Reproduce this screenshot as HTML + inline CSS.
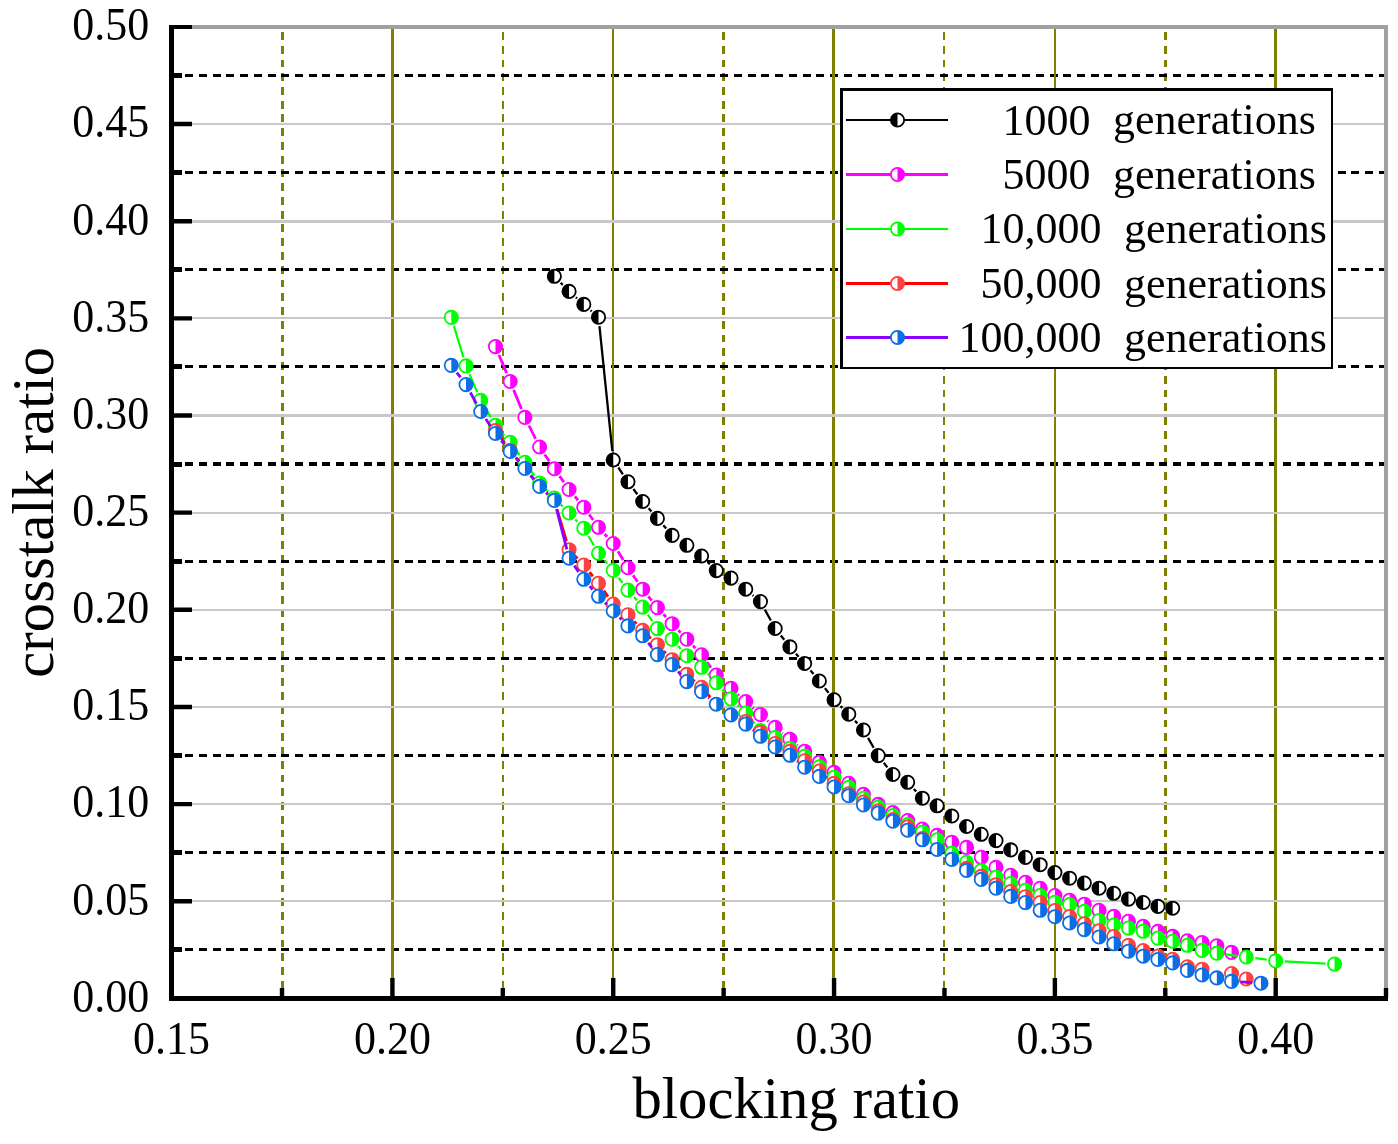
<!DOCTYPE html>
<html lang="en"><head><meta charset="utf-8"><title>crosstalk ratio vs blocking ratio</title>
<style>html,body{margin:0;padding:0;background:#fff}body{width:1398px;height:1144px;overflow:hidden}svg{display:block;will-change:transform}text{font-family:"Liberation Serif","Times New Roman",serif;fill:#000}.tk{font-size:44px}.ax{font-size:58.7px}.lg{font-size:44px}</style></head><body>
<svg width="1398" height="1144" viewBox="0 0 1398 1144">
<rect width="1398" height="1144" fill="#fff"/>
<g fill="none" shape-rendering="crispEdges">
<path d="M282.5 32V998.4" stroke="#808000" stroke-width="3" stroke-dasharray="7.9 5.85"/>
<path d="M503 32V998.4" stroke="#808000" stroke-width="2" stroke-dasharray="7.9 5.85"/>
<path d="M723.5 32V998.4" stroke="#808000" stroke-width="3" stroke-dasharray="7.9 5.85"/>
<path d="M944 32V998.4" stroke="#808000" stroke-width="2" stroke-dasharray="7.9 5.85"/>
<path d="M1165.5 32V998.4" stroke="#808000" stroke-width="3" stroke-dasharray="7.9 5.85"/>
<path d="M171.5 949.5H1386.11" stroke="#000" stroke-width="3" stroke-dasharray="8 5.72"/>
<path d="M171.5 852.5H1386.11" stroke="#000" stroke-width="3" stroke-dasharray="8 5.72"/>
<path d="M171.5 755.5H1386.11" stroke="#000" stroke-width="3" stroke-dasharray="8 5.72"/>
<path d="M171.5 658.5H1386.11" stroke="#000" stroke-width="3" stroke-dasharray="8 5.72"/>
<path d="M171.5 561.5H1386.11" stroke="#000" stroke-width="3" stroke-dasharray="8 5.72"/>
<path d="M171.5 464H1386.11" stroke="#000" stroke-width="4" stroke-dasharray="8 5.72"/>
<path d="M171.5 366.5H1386.11" stroke="#000" stroke-width="3" stroke-dasharray="8 5.72"/>
<path d="M171.5 269.5H1386.11" stroke="#000" stroke-width="3" stroke-dasharray="8 5.72"/>
<path d="M171.5 172.5H1386.11" stroke="#000" stroke-width="3" stroke-dasharray="8 5.72"/>
<path d="M171.5 75.5H1386.11" stroke="#000" stroke-width="3" stroke-dasharray="8 5.72"/>
<path d="M392.5 26.9V998.4" stroke="#808000" stroke-width="3"/>
<path d="M613 26.9V998.4" stroke="#808000" stroke-width="2"/>
<path d="M833.5 26.9V998.4" stroke="#808000" stroke-width="3"/>
<path d="M1055 26.9V998.4" stroke="#808000" stroke-width="2"/>
<path d="M1275.5 26.9V998.4" stroke="#808000" stroke-width="3"/>
<path d="M171.6 901H1386.11" stroke="#c8c8c8" stroke-width="2"/>
<path d="M171.6 804H1386.11" stroke="#c8c8c8" stroke-width="2"/>
<path d="M171.6 707H1386.11" stroke="#c8c8c8" stroke-width="2"/>
<path d="M171.6 610H1386.11" stroke="#c8c8c8" stroke-width="2"/>
<path d="M171.6 513H1386.11" stroke="#c8c8c8" stroke-width="2"/>
<path d="M171.6 415.5H1386.11" stroke="#c8c8c8" stroke-width="3"/>
<path d="M171.6 318H1386.11" stroke="#c8c8c8" stroke-width="2"/>
<path d="M171.6 221.5H1386.11" stroke="#c8c8c8" stroke-width="3"/>
<path d="M171.6 124H1386.11" stroke="#c8c8c8" stroke-width="2"/>
<path d="M171.6 27H1388M1386 25V998.4" stroke="#a0a0a0" stroke-width="4"/>
</g>
<g id="s1">
<path d="M560.67 282.78L562.76 284.92M575.86 297.39L577.01 298.41M590.63 310.34L591.69 311.26M599.45 326.2L612.31 451M618.3 467.5L622.9 474.3M633.38 489.05L637.27 494.25M648.63 508.32L651.46 511.58M663.33 525.24L666.2 528.56M707.99 562.37L709.86 564.23M738.24 583.55L738.51 583.75M752.65 595.03L753.53 595.77M764.8 609.54L770.83 620.56M780.83 635.57L784.24 639.83M795.9 653.67L798.61 656.73M810.44 670.43L813.51 674.07M824.92 688.13L828.48 692.67M840.53 706.13L842.31 707.87M854.95 720.82L857.33 723.38M868.01 737.85L873.71 747.75M883.79 762.74L887.38 767.36M913.82 788.94L916.24 791.56" fill="none" stroke="#000000" stroke-width="2.3"/>
<circle cx="554.35" cy="276.3" r="6.65" fill="#fff" stroke="#000000" stroke-width="1.8"/><path d="M554.35 269.65A6.65 6.65 0 0 0 554.35 282.95Z" fill="#000000"/>
<circle cx="569.08" cy="291.4" r="6.65" fill="#fff" stroke="#000000" stroke-width="1.8"/><path d="M569.08 284.75A6.65 6.65 0 0 0 569.08 298.05Z" fill="#000000"/>
<circle cx="583.8" cy="304.4" r="6.65" fill="#fff" stroke="#000000" stroke-width="1.8"/><path d="M583.8 297.75A6.65 6.65 0 0 0 583.8 311.05Z" fill="#000000"/>
<circle cx="598.52" cy="317.2" r="6.65" fill="#fff" stroke="#000000" stroke-width="1.8"/><path d="M598.52 310.55A6.65 6.65 0 0 0 598.52 323.85Z" fill="#000000"/>
<circle cx="613.24" cy="460" r="6.65" fill="#fff" stroke="#000000" stroke-width="1.8"/><path d="M613.24 453.35A6.65 6.65 0 0 0 613.24 466.65Z" fill="#000000"/>
<circle cx="627.96" cy="481.8" r="6.65" fill="#fff" stroke="#000000" stroke-width="1.8"/><path d="M627.96 475.15A6.65 6.65 0 0 0 627.96 488.45Z" fill="#000000"/>
<circle cx="642.68" cy="501.5" r="6.65" fill="#fff" stroke="#000000" stroke-width="1.8"/><path d="M642.68 494.85A6.65 6.65 0 0 0 642.68 508.15Z" fill="#000000"/>
<circle cx="657.4" cy="518.4" r="6.65" fill="#fff" stroke="#000000" stroke-width="1.8"/><path d="M657.4 511.75A6.65 6.65 0 0 0 657.4 525.05Z" fill="#000000"/>
<circle cx="672.13" cy="535.4" r="6.65" fill="#fff" stroke="#000000" stroke-width="1.8"/><path d="M672.13 528.75A6.65 6.65 0 0 0 672.13 542.05Z" fill="#000000"/>
<circle cx="686.85" cy="545.3" r="6.65" fill="#fff" stroke="#000000" stroke-width="1.8"/><path d="M686.85 538.65A6.65 6.65 0 0 0 686.85 551.95Z" fill="#000000"/>
<circle cx="701.57" cy="556" r="6.65" fill="#fff" stroke="#000000" stroke-width="1.8"/><path d="M701.57 549.35A6.65 6.65 0 0 0 701.57 562.65Z" fill="#000000"/>
<circle cx="716.29" cy="570.6" r="6.65" fill="#fff" stroke="#000000" stroke-width="1.8"/><path d="M716.29 563.95A6.65 6.65 0 0 0 716.29 577.25Z" fill="#000000"/>
<circle cx="731.01" cy="578.1" r="6.65" fill="#fff" stroke="#000000" stroke-width="1.8"/><path d="M731.01 571.45A6.65 6.65 0 0 0 731.01 584.75Z" fill="#000000"/>
<circle cx="745.73" cy="589.2" r="6.65" fill="#fff" stroke="#000000" stroke-width="1.8"/><path d="M745.73 582.55A6.65 6.65 0 0 0 745.73 595.85Z" fill="#000000"/>
<circle cx="760.45" cy="601.6" r="6.65" fill="#fff" stroke="#000000" stroke-width="1.8"/><path d="M760.45 594.95A6.65 6.65 0 0 0 760.45 608.25Z" fill="#000000"/>
<circle cx="775.17" cy="628.5" r="6.65" fill="#fff" stroke="#000000" stroke-width="1.8"/><path d="M775.17 621.85A6.65 6.65 0 0 0 775.17 635.15Z" fill="#000000"/>
<circle cx="789.9" cy="646.9" r="6.65" fill="#fff" stroke="#000000" stroke-width="1.8"/><path d="M789.9 640.25A6.65 6.65 0 0 0 789.9 653.55Z" fill="#000000"/>
<circle cx="804.62" cy="663.5" r="6.65" fill="#fff" stroke="#000000" stroke-width="1.8"/><path d="M804.62 656.85A6.65 6.65 0 0 0 804.62 670.15Z" fill="#000000"/>
<circle cx="819.34" cy="681" r="6.65" fill="#fff" stroke="#000000" stroke-width="1.8"/><path d="M819.34 674.35A6.65 6.65 0 0 0 819.34 687.65Z" fill="#000000"/>
<circle cx="834.06" cy="699.8" r="6.65" fill="#fff" stroke="#000000" stroke-width="1.8"/><path d="M834.06 693.15A6.65 6.65 0 0 0 834.06 706.45Z" fill="#000000"/>
<circle cx="848.78" cy="714.2" r="6.65" fill="#fff" stroke="#000000" stroke-width="1.8"/><path d="M848.78 707.55A6.65 6.65 0 0 0 848.78 720.85Z" fill="#000000"/>
<circle cx="863.5" cy="730" r="6.65" fill="#fff" stroke="#000000" stroke-width="1.8"/><path d="M863.5 723.35A6.65 6.65 0 0 0 863.5 736.65Z" fill="#000000"/>
<circle cx="878.22" cy="755.6" r="6.65" fill="#fff" stroke="#000000" stroke-width="1.8"/><path d="M878.22 748.95A6.65 6.65 0 0 0 878.22 762.25Z" fill="#000000"/>
<circle cx="892.95" cy="774.5" r="6.65" fill="#fff" stroke="#000000" stroke-width="1.8"/><path d="M892.95 767.85A6.65 6.65 0 0 0 892.95 781.15Z" fill="#000000"/>
<circle cx="907.67" cy="782.3" r="6.65" fill="#fff" stroke="#000000" stroke-width="1.8"/><path d="M907.67 775.65A6.65 6.65 0 0 0 907.67 788.95Z" fill="#000000"/>
<circle cx="922.39" cy="798.2" r="6.65" fill="#fff" stroke="#000000" stroke-width="1.8"/><path d="M922.39 791.55A6.65 6.65 0 0 0 922.39 804.85Z" fill="#000000"/>
<circle cx="937.11" cy="805.8" r="6.65" fill="#fff" stroke="#000000" stroke-width="1.8"/><path d="M937.11 799.15A6.65 6.65 0 0 0 937.11 812.45Z" fill="#000000"/>
<circle cx="951.83" cy="816" r="6.65" fill="#fff" stroke="#000000" stroke-width="1.8"/><path d="M951.83 809.35A6.65 6.65 0 0 0 951.83 822.65Z" fill="#000000"/>
<circle cx="966.55" cy="826.5" r="6.65" fill="#fff" stroke="#000000" stroke-width="1.8"/><path d="M966.55 819.85A6.65 6.65 0 0 0 966.55 833.15Z" fill="#000000"/>
<circle cx="981.27" cy="834.3" r="6.65" fill="#fff" stroke="#000000" stroke-width="1.8"/><path d="M981.27 827.65A6.65 6.65 0 0 0 981.27 840.95Z" fill="#000000"/>
<circle cx="995.99" cy="840.6" r="6.65" fill="#fff" stroke="#000000" stroke-width="1.8"/><path d="M995.99 833.95A6.65 6.65 0 0 0 995.99 847.25Z" fill="#000000"/>
<circle cx="1010.72" cy="849.9" r="6.65" fill="#fff" stroke="#000000" stroke-width="1.8"/><path d="M1010.72 843.25A6.65 6.65 0 0 0 1010.72 856.55Z" fill="#000000"/>
<circle cx="1025.44" cy="857.4" r="6.65" fill="#fff" stroke="#000000" stroke-width="1.8"/><path d="M1025.44 850.75A6.65 6.65 0 0 0 1025.44 864.05Z" fill="#000000"/>
<circle cx="1040.16" cy="864.7" r="6.65" fill="#fff" stroke="#000000" stroke-width="1.8"/><path d="M1040.16 858.05A6.65 6.65 0 0 0 1040.16 871.35Z" fill="#000000"/>
<circle cx="1054.88" cy="872.6" r="6.65" fill="#fff" stroke="#000000" stroke-width="1.8"/><path d="M1054.88 865.95A6.65 6.65 0 0 0 1054.88 879.25Z" fill="#000000"/>
<circle cx="1069.6" cy="878.2" r="6.65" fill="#fff" stroke="#000000" stroke-width="1.8"/><path d="M1069.6 871.55A6.65 6.65 0 0 0 1069.6 884.85Z" fill="#000000"/>
<circle cx="1084.32" cy="883.1" r="6.65" fill="#fff" stroke="#000000" stroke-width="1.8"/><path d="M1084.32 876.45A6.65 6.65 0 0 0 1084.32 889.75Z" fill="#000000"/>
<circle cx="1099.04" cy="888.2" r="6.65" fill="#fff" stroke="#000000" stroke-width="1.8"/><path d="M1099.04 881.55A6.65 6.65 0 0 0 1099.04 894.85Z" fill="#000000"/>
<circle cx="1113.77" cy="893.3" r="6.65" fill="#fff" stroke="#000000" stroke-width="1.8"/><path d="M1113.77 886.65A6.65 6.65 0 0 0 1113.77 899.95Z" fill="#000000"/>
<circle cx="1128.49" cy="899.1" r="6.65" fill="#fff" stroke="#000000" stroke-width="1.8"/><path d="M1128.49 892.45A6.65 6.65 0 0 0 1128.49 905.75Z" fill="#000000"/>
<circle cx="1143.21" cy="902.5" r="6.65" fill="#fff" stroke="#000000" stroke-width="1.8"/><path d="M1143.21 895.85A6.65 6.65 0 0 0 1143.21 909.15Z" fill="#000000"/>
<circle cx="1157.93" cy="906.4" r="6.65" fill="#fff" stroke="#000000" stroke-width="1.8"/><path d="M1157.93 899.75A6.65 6.65 0 0 0 1157.93 913.05Z" fill="#000000"/>
<circle cx="1172.65" cy="908.2" r="6.65" fill="#fff" stroke="#000000" stroke-width="1.8"/><path d="M1172.65 901.55A6.65 6.65 0 0 0 1172.65 914.85Z" fill="#000000"/>
</g>
<g id="s2">
<path d="M498.99 354.94L506.67 373.16M513.62 389.87L521.48 409.03M528.94 425.5L535.6 438.9M544.71 454.49L549.27 461.21M559.58 476.09L563.85 482.11M574.86 496.46L578.01 500.24M589.14 514.5L593.17 520M604.61 534L607.15 536.8M617.94 551.23L623.26 559.97M633.07 575.17L637.57 581.73M648.34 596.27L651.75 600.53M663.51 614.28L666.02 617.02M678.36 630.26L680.61 632.64M693.06 645.78L695.36 648.22M706.9 662.11L710.96 667.69M723 681.07L724.3 682.23M737.73 694.37L739.02 695.53M752.52 707.59L753.67 708.61M767.28 720.54L768.35 721.46M782.24 733.06L782.83 733.54M796.91 744.92L797.6 745.48" fill="none" stroke="#ff00ff" stroke-width="2.8"/>
<circle cx="495.47" cy="346.6" r="6.65" fill="#fff" stroke="#ff00ff" stroke-width="1.8"/><path d="M495.47 339.95A6.65 6.65 0 0 1 495.47 353.25Z" fill="#ff00ff"/>
<circle cx="510.19" cy="381.5" r="6.65" fill="#fff" stroke="#ff00ff" stroke-width="1.8"/><path d="M510.19 374.85A6.65 6.65 0 0 1 510.19 388.15Z" fill="#ff00ff"/>
<circle cx="524.91" cy="417.4" r="6.65" fill="#fff" stroke="#ff00ff" stroke-width="1.8"/><path d="M524.91 410.75A6.65 6.65 0 0 1 524.91 424.05Z" fill="#ff00ff"/>
<circle cx="539.63" cy="447" r="6.65" fill="#fff" stroke="#ff00ff" stroke-width="1.8"/><path d="M539.63 440.35A6.65 6.65 0 0 1 539.63 453.65Z" fill="#ff00ff"/>
<circle cx="554.35" cy="468.7" r="6.65" fill="#fff" stroke="#ff00ff" stroke-width="1.8"/><path d="M554.35 462.05A6.65 6.65 0 0 1 554.35 475.35Z" fill="#ff00ff"/>
<circle cx="569.08" cy="489.5" r="6.65" fill="#fff" stroke="#ff00ff" stroke-width="1.8"/><path d="M569.08 482.85A6.65 6.65 0 0 1 569.08 496.15Z" fill="#ff00ff"/>
<circle cx="583.8" cy="507.2" r="6.65" fill="#fff" stroke="#ff00ff" stroke-width="1.8"/><path d="M583.8 500.55A6.65 6.65 0 0 1 583.8 513.85Z" fill="#ff00ff"/>
<circle cx="598.52" cy="527.3" r="6.65" fill="#fff" stroke="#ff00ff" stroke-width="1.8"/><path d="M598.52 520.65A6.65 6.65 0 0 1 598.52 533.95Z" fill="#ff00ff"/>
<circle cx="613.24" cy="543.5" r="6.65" fill="#fff" stroke="#ff00ff" stroke-width="1.8"/><path d="M613.24 536.85A6.65 6.65 0 0 1 613.24 550.15Z" fill="#ff00ff"/>
<circle cx="627.96" cy="567.7" r="6.65" fill="#fff" stroke="#ff00ff" stroke-width="1.8"/><path d="M627.96 561.05A6.65 6.65 0 0 1 627.96 574.35Z" fill="#ff00ff"/>
<circle cx="642.68" cy="589.2" r="6.65" fill="#fff" stroke="#ff00ff" stroke-width="1.8"/><path d="M642.68 582.55A6.65 6.65 0 0 1 642.68 595.85Z" fill="#ff00ff"/>
<circle cx="657.4" cy="607.6" r="6.65" fill="#fff" stroke="#ff00ff" stroke-width="1.8"/><path d="M657.4 600.95A6.65 6.65 0 0 1 657.4 614.25Z" fill="#ff00ff"/>
<circle cx="672.13" cy="623.7" r="6.65" fill="#fff" stroke="#ff00ff" stroke-width="1.8"/><path d="M672.13 617.05A6.65 6.65 0 0 1 672.13 630.35Z" fill="#ff00ff"/>
<circle cx="686.85" cy="639.2" r="6.65" fill="#fff" stroke="#ff00ff" stroke-width="1.8"/><path d="M686.85 632.55A6.65 6.65 0 0 1 686.85 645.85Z" fill="#ff00ff"/>
<circle cx="701.57" cy="654.8" r="6.65" fill="#fff" stroke="#ff00ff" stroke-width="1.8"/><path d="M701.57 648.15A6.65 6.65 0 0 1 701.57 661.45Z" fill="#ff00ff"/>
<circle cx="716.29" cy="675" r="6.65" fill="#fff" stroke="#ff00ff" stroke-width="1.8"/><path d="M716.29 668.35A6.65 6.65 0 0 1 716.29 681.65Z" fill="#ff00ff"/>
<circle cx="731.01" cy="688.3" r="6.65" fill="#fff" stroke="#ff00ff" stroke-width="1.8"/><path d="M731.01 681.65A6.65 6.65 0 0 1 731.01 694.95Z" fill="#ff00ff"/>
<circle cx="745.73" cy="701.6" r="6.65" fill="#fff" stroke="#ff00ff" stroke-width="1.8"/><path d="M745.73 694.95A6.65 6.65 0 0 1 745.73 708.25Z" fill="#ff00ff"/>
<circle cx="760.45" cy="714.6" r="6.65" fill="#fff" stroke="#ff00ff" stroke-width="1.8"/><path d="M760.45 707.95A6.65 6.65 0 0 1 760.45 721.25Z" fill="#ff00ff"/>
<circle cx="775.17" cy="727.4" r="6.65" fill="#fff" stroke="#ff00ff" stroke-width="1.8"/><path d="M775.17 720.75A6.65 6.65 0 0 1 775.17 734.05Z" fill="#ff00ff"/>
<circle cx="789.9" cy="739.2" r="6.65" fill="#fff" stroke="#ff00ff" stroke-width="1.8"/><path d="M789.9 732.55A6.65 6.65 0 0 1 789.9 745.85Z" fill="#ff00ff"/>
<circle cx="804.62" cy="751.2" r="6.65" fill="#fff" stroke="#ff00ff" stroke-width="1.8"/><path d="M804.62 744.55A6.65 6.65 0 0 1 804.62 757.85Z" fill="#ff00ff"/>
<circle cx="819.34" cy="762.2" r="6.65" fill="#fff" stroke="#ff00ff" stroke-width="1.8"/><path d="M819.34 755.55A6.65 6.65 0 0 1 819.34 768.85Z" fill="#ff00ff"/>
<circle cx="834.06" cy="772.4" r="6.65" fill="#fff" stroke="#ff00ff" stroke-width="1.8"/><path d="M834.06 765.75A6.65 6.65 0 0 1 834.06 779.05Z" fill="#ff00ff"/>
<circle cx="848.78" cy="783.3" r="6.65" fill="#fff" stroke="#ff00ff" stroke-width="1.8"/><path d="M848.78 776.65A6.65 6.65 0 0 1 848.78 789.95Z" fill="#ff00ff"/>
<circle cx="863.5" cy="794.3" r="6.65" fill="#fff" stroke="#ff00ff" stroke-width="1.8"/><path d="M863.5 787.65A6.65 6.65 0 0 1 863.5 800.95Z" fill="#ff00ff"/>
<circle cx="878.22" cy="804.4" r="6.65" fill="#fff" stroke="#ff00ff" stroke-width="1.8"/><path d="M878.22 797.75A6.65 6.65 0 0 1 878.22 811.05Z" fill="#ff00ff"/>
<circle cx="892.95" cy="812.6" r="6.65" fill="#fff" stroke="#ff00ff" stroke-width="1.8"/><path d="M892.95 805.95A6.65 6.65 0 0 1 892.95 819.25Z" fill="#ff00ff"/>
<circle cx="907.67" cy="820.6" r="6.65" fill="#fff" stroke="#ff00ff" stroke-width="1.8"/><path d="M907.67 813.95A6.65 6.65 0 0 1 907.67 827.25Z" fill="#ff00ff"/>
<circle cx="922.39" cy="829.1" r="6.65" fill="#fff" stroke="#ff00ff" stroke-width="1.8"/><path d="M922.39 822.45A6.65 6.65 0 0 1 922.39 835.75Z" fill="#ff00ff"/>
<circle cx="937.11" cy="835.4" r="6.65" fill="#fff" stroke="#ff00ff" stroke-width="1.8"/><path d="M937.11 828.75A6.65 6.65 0 0 1 937.11 842.05Z" fill="#ff00ff"/>
<circle cx="951.83" cy="842.3" r="6.65" fill="#fff" stroke="#ff00ff" stroke-width="1.8"/><path d="M951.83 835.65A6.65 6.65 0 0 1 951.83 848.95Z" fill="#ff00ff"/>
<circle cx="966.55" cy="847.4" r="6.65" fill="#fff" stroke="#ff00ff" stroke-width="1.8"/><path d="M966.55 840.75A6.65 6.65 0 0 1 966.55 854.05Z" fill="#ff00ff"/>
<circle cx="981.27" cy="857.3" r="6.65" fill="#fff" stroke="#ff00ff" stroke-width="1.8"/><path d="M981.27 850.65A6.65 6.65 0 0 1 981.27 863.95Z" fill="#ff00ff"/>
<circle cx="995.99" cy="867.4" r="6.65" fill="#fff" stroke="#ff00ff" stroke-width="1.8"/><path d="M995.99 860.75A6.65 6.65 0 0 1 995.99 874.05Z" fill="#ff00ff"/>
<circle cx="1010.72" cy="875.3" r="6.65" fill="#fff" stroke="#ff00ff" stroke-width="1.8"/><path d="M1010.72 868.65A6.65 6.65 0 0 1 1010.72 881.95Z" fill="#ff00ff"/>
<circle cx="1025.44" cy="882.3" r="6.65" fill="#fff" stroke="#ff00ff" stroke-width="1.8"/><path d="M1025.44 875.65A6.65 6.65 0 0 1 1025.44 888.95Z" fill="#ff00ff"/>
<circle cx="1040.16" cy="888.3" r="6.65" fill="#fff" stroke="#ff00ff" stroke-width="1.8"/><path d="M1040.16 881.65A6.65 6.65 0 0 1 1040.16 894.95Z" fill="#ff00ff"/>
<circle cx="1054.88" cy="895.5" r="6.65" fill="#fff" stroke="#ff00ff" stroke-width="1.8"/><path d="M1054.88 888.85A6.65 6.65 0 0 1 1054.88 902.15Z" fill="#ff00ff"/>
<circle cx="1069.6" cy="900.3" r="6.65" fill="#fff" stroke="#ff00ff" stroke-width="1.8"/><path d="M1069.6 893.65A6.65 6.65 0 0 1 1069.6 906.95Z" fill="#ff00ff"/>
<circle cx="1084.32" cy="904.2" r="6.65" fill="#fff" stroke="#ff00ff" stroke-width="1.8"/><path d="M1084.32 897.55A6.65 6.65 0 0 1 1084.32 910.85Z" fill="#ff00ff"/>
<circle cx="1099.04" cy="910.3" r="6.65" fill="#fff" stroke="#ff00ff" stroke-width="1.8"/><path d="M1099.04 903.65A6.65 6.65 0 0 1 1099.04 916.95Z" fill="#ff00ff"/>
<circle cx="1113.77" cy="916.4" r="6.65" fill="#fff" stroke="#ff00ff" stroke-width="1.8"/><path d="M1113.77 909.75A6.65 6.65 0 0 1 1113.77 923.05Z" fill="#ff00ff"/>
<circle cx="1128.49" cy="921.3" r="6.65" fill="#fff" stroke="#ff00ff" stroke-width="1.8"/><path d="M1128.49 914.65A6.65 6.65 0 0 1 1128.49 927.95Z" fill="#ff00ff"/>
<circle cx="1143.21" cy="926.3" r="6.65" fill="#fff" stroke="#ff00ff" stroke-width="1.8"/><path d="M1143.21 919.65A6.65 6.65 0 0 1 1143.21 932.95Z" fill="#ff00ff"/>
<circle cx="1157.93" cy="931.4" r="6.65" fill="#fff" stroke="#ff00ff" stroke-width="1.8"/><path d="M1157.93 924.75A6.65 6.65 0 0 1 1157.93 938.05Z" fill="#ff00ff"/>
<circle cx="1172.65" cy="936.4" r="6.65" fill="#fff" stroke="#ff00ff" stroke-width="1.8"/><path d="M1172.65 929.75A6.65 6.65 0 0 1 1172.65 943.05Z" fill="#ff00ff"/>
<circle cx="1187.37" cy="940.8" r="6.65" fill="#fff" stroke="#ff00ff" stroke-width="1.8"/><path d="M1187.37 934.15A6.65 6.65 0 0 1 1187.37 947.45Z" fill="#ff00ff"/>
<circle cx="1202.09" cy="942.5" r="6.65" fill="#fff" stroke="#ff00ff" stroke-width="1.8"/><path d="M1202.09 935.85A6.65 6.65 0 0 1 1202.09 949.15Z" fill="#ff00ff"/>
<circle cx="1216.81" cy="945.8" r="6.65" fill="#fff" stroke="#ff00ff" stroke-width="1.8"/><path d="M1216.81 939.15A6.65 6.65 0 0 1 1216.81 952.45Z" fill="#ff00ff"/>
<circle cx="1231.54" cy="952.4" r="6.65" fill="#fff" stroke="#ff00ff" stroke-width="1.8"/><path d="M1231.54 945.75A6.65 6.65 0 0 1 1231.54 959.05Z" fill="#ff00ff"/>
</g>
<g id="s3">
<path d="M453.93 326.06L463.4 357.24M469.58 374.22L477.2 392.08M485.37 408.18L490.85 417.42M501.37 432.06L504.29 435.44M515.56 449.59L519.55 455.01M530.16 469.68L534.39 475.62M545.97 489.46L548.02 491.54M560.69 504.46L562.74 506.54M575.37 519.5L577.5 521.7M588.38 536.01L593.94 545.49M604.42 560.16L607.34 563.54M618.66 577.65L622.54 582.85M633.89 596.94L636.76 600.26M647.8 614.57L652.29 621.13M678.15 645.95L680.82 648.95M693.96 661.3L694.46 661.7M707.8 673.86L710.06 676.24M722.4 689.48L724.9 692.22M737.55 705.16L739.2 706.74M751.56 719.93L754.63 723.57M943.8 845.89L945.14 847.11M1225.79 954.36L1237.28 955.84M1255.23 958.19L1266.73 959.71M1284.74 961.39L1325.55 963.61" fill="none" stroke="#00ff00" stroke-width="2.2"/>
<circle cx="451.31" cy="317.4" r="6.65" fill="#fff" stroke="#00ff00" stroke-width="1.8"/><path d="M451.31 310.75A6.65 6.65 0 0 1 451.31 324.05Z" fill="#00ff00"/>
<circle cx="466.03" cy="365.9" r="6.65" fill="#fff" stroke="#00ff00" stroke-width="1.8"/><path d="M466.03 359.25A6.65 6.65 0 0 1 466.03 372.55Z" fill="#00ff00"/>
<circle cx="480.75" cy="400.4" r="6.65" fill="#fff" stroke="#00ff00" stroke-width="1.8"/><path d="M480.75 393.75A6.65 6.65 0 0 1 480.75 407.05Z" fill="#00ff00"/>
<circle cx="495.47" cy="425.2" r="6.65" fill="#fff" stroke="#00ff00" stroke-width="1.8"/><path d="M495.47 418.55A6.65 6.65 0 0 1 495.47 431.85Z" fill="#00ff00"/>
<circle cx="510.19" cy="442.3" r="6.65" fill="#fff" stroke="#00ff00" stroke-width="1.8"/><path d="M510.19 435.65A6.65 6.65 0 0 1 510.19 448.95Z" fill="#00ff00"/>
<circle cx="524.91" cy="462.3" r="6.65" fill="#fff" stroke="#00ff00" stroke-width="1.8"/><path d="M524.91 455.65A6.65 6.65 0 0 1 524.91 468.95Z" fill="#00ff00"/>
<circle cx="539.63" cy="483" r="6.65" fill="#fff" stroke="#00ff00" stroke-width="1.8"/><path d="M539.63 476.35A6.65 6.65 0 0 1 539.63 489.65Z" fill="#00ff00"/>
<circle cx="554.35" cy="498" r="6.65" fill="#fff" stroke="#00ff00" stroke-width="1.8"/><path d="M554.35 491.35A6.65 6.65 0 0 1 554.35 504.65Z" fill="#00ff00"/>
<circle cx="569.08" cy="513" r="6.65" fill="#fff" stroke="#00ff00" stroke-width="1.8"/><path d="M569.08 506.35A6.65 6.65 0 0 1 569.08 519.65Z" fill="#00ff00"/>
<circle cx="583.8" cy="528.2" r="6.65" fill="#fff" stroke="#00ff00" stroke-width="1.8"/><path d="M583.8 521.55A6.65 6.65 0 0 1 583.8 534.85Z" fill="#00ff00"/>
<circle cx="598.52" cy="553.3" r="6.65" fill="#fff" stroke="#00ff00" stroke-width="1.8"/><path d="M598.52 546.65A6.65 6.65 0 0 1 598.52 559.95Z" fill="#00ff00"/>
<circle cx="613.24" cy="570.4" r="6.65" fill="#fff" stroke="#00ff00" stroke-width="1.8"/><path d="M613.24 563.75A6.65 6.65 0 0 1 613.24 577.05Z" fill="#00ff00"/>
<circle cx="627.96" cy="590.1" r="6.65" fill="#fff" stroke="#00ff00" stroke-width="1.8"/><path d="M627.96 583.45A6.65 6.65 0 0 1 627.96 596.75Z" fill="#00ff00"/>
<circle cx="642.68" cy="607.1" r="6.65" fill="#fff" stroke="#00ff00" stroke-width="1.8"/><path d="M642.68 600.45A6.65 6.65 0 0 1 642.68 613.75Z" fill="#00ff00"/>
<circle cx="657.4" cy="628.6" r="6.65" fill="#fff" stroke="#00ff00" stroke-width="1.8"/><path d="M657.4 621.95A6.65 6.65 0 0 1 657.4 635.25Z" fill="#00ff00"/>
<circle cx="672.13" cy="639.2" r="6.65" fill="#fff" stroke="#00ff00" stroke-width="1.8"/><path d="M672.13 632.55A6.65 6.65 0 0 1 672.13 645.85Z" fill="#00ff00"/>
<circle cx="686.85" cy="655.7" r="6.65" fill="#fff" stroke="#00ff00" stroke-width="1.8"/><path d="M686.85 649.05A6.65 6.65 0 0 1 686.85 662.35Z" fill="#00ff00"/>
<circle cx="701.57" cy="667.3" r="6.65" fill="#fff" stroke="#00ff00" stroke-width="1.8"/><path d="M701.57 660.65A6.65 6.65 0 0 1 701.57 673.95Z" fill="#00ff00"/>
<circle cx="716.29" cy="682.8" r="6.65" fill="#fff" stroke="#00ff00" stroke-width="1.8"/><path d="M716.29 676.15A6.65 6.65 0 0 1 716.29 689.45Z" fill="#00ff00"/>
<circle cx="731.01" cy="698.9" r="6.65" fill="#fff" stroke="#00ff00" stroke-width="1.8"/><path d="M731.01 692.25A6.65 6.65 0 0 1 731.01 705.55Z" fill="#00ff00"/>
<circle cx="745.73" cy="713" r="6.65" fill="#fff" stroke="#00ff00" stroke-width="1.8"/><path d="M745.73 706.35A6.65 6.65 0 0 1 745.73 719.65Z" fill="#00ff00"/>
<circle cx="760.45" cy="730.5" r="6.65" fill="#fff" stroke="#00ff00" stroke-width="1.8"/><path d="M760.45 723.85A6.65 6.65 0 0 1 760.45 737.15Z" fill="#00ff00"/>
<circle cx="775.17" cy="737.6" r="6.65" fill="#fff" stroke="#00ff00" stroke-width="1.8"/><path d="M775.17 730.95A6.65 6.65 0 0 1 775.17 744.25Z" fill="#00ff00"/>
<circle cx="789.9" cy="748.3" r="6.65" fill="#fff" stroke="#00ff00" stroke-width="1.8"/><path d="M789.9 741.65A6.65 6.65 0 0 1 789.9 754.95Z" fill="#00ff00"/>
<circle cx="804.62" cy="756.2" r="6.65" fill="#fff" stroke="#00ff00" stroke-width="1.8"/><path d="M804.62 749.55A6.65 6.65 0 0 1 804.62 762.85Z" fill="#00ff00"/>
<circle cx="819.34" cy="766.8" r="6.65" fill="#fff" stroke="#00ff00" stroke-width="1.8"/><path d="M819.34 760.15A6.65 6.65 0 0 1 819.34 773.45Z" fill="#00ff00"/>
<circle cx="834.06" cy="777.3" r="6.65" fill="#fff" stroke="#00ff00" stroke-width="1.8"/><path d="M834.06 770.65A6.65 6.65 0 0 1 834.06 783.95Z" fill="#00ff00"/>
<circle cx="848.78" cy="787.4" r="6.65" fill="#fff" stroke="#00ff00" stroke-width="1.8"/><path d="M848.78 780.75A6.65 6.65 0 0 1 848.78 794.05Z" fill="#00ff00"/>
<circle cx="863.5" cy="798.3" r="6.65" fill="#fff" stroke="#00ff00" stroke-width="1.8"/><path d="M863.5 791.65A6.65 6.65 0 0 1 863.5 804.95Z" fill="#00ff00"/>
<circle cx="878.22" cy="807" r="6.65" fill="#fff" stroke="#00ff00" stroke-width="1.8"/><path d="M878.22 800.35A6.65 6.65 0 0 1 878.22 813.65Z" fill="#00ff00"/>
<circle cx="892.95" cy="815.5" r="6.65" fill="#fff" stroke="#00ff00" stroke-width="1.8"/><path d="M892.95 808.85A6.65 6.65 0 0 1 892.95 822.15Z" fill="#00ff00"/>
<circle cx="907.67" cy="824.5" r="6.65" fill="#fff" stroke="#00ff00" stroke-width="1.8"/><path d="M907.67 817.85A6.65 6.65 0 0 1 907.67 831.15Z" fill="#00ff00"/>
<circle cx="922.39" cy="832.2" r="6.65" fill="#fff" stroke="#00ff00" stroke-width="1.8"/><path d="M922.39 825.55A6.65 6.65 0 0 1 922.39 838.85Z" fill="#00ff00"/>
<circle cx="937.11" cy="839.8" r="6.65" fill="#fff" stroke="#00ff00" stroke-width="1.8"/><path d="M937.11 833.15A6.65 6.65 0 0 1 937.11 846.45Z" fill="#00ff00"/>
<circle cx="951.83" cy="853.2" r="6.65" fill="#fff" stroke="#00ff00" stroke-width="1.8"/><path d="M951.83 846.55A6.65 6.65 0 0 1 951.83 859.85Z" fill="#00ff00"/>
<circle cx="966.55" cy="862.3" r="6.65" fill="#fff" stroke="#00ff00" stroke-width="1.8"/><path d="M966.55 855.65A6.65 6.65 0 0 1 966.55 868.95Z" fill="#00ff00"/>
<circle cx="981.27" cy="870.5" r="6.65" fill="#fff" stroke="#00ff00" stroke-width="1.8"/><path d="M981.27 863.85A6.65 6.65 0 0 1 981.27 877.15Z" fill="#00ff00"/>
<circle cx="995.99" cy="877.2" r="6.65" fill="#fff" stroke="#00ff00" stroke-width="1.8"/><path d="M995.99 870.55A6.65 6.65 0 0 1 995.99 883.85Z" fill="#00ff00"/>
<circle cx="1010.72" cy="883.5" r="6.65" fill="#fff" stroke="#00ff00" stroke-width="1.8"/><path d="M1010.72 876.85A6.65 6.65 0 0 1 1010.72 890.15Z" fill="#00ff00"/>
<circle cx="1025.44" cy="890.3" r="6.65" fill="#fff" stroke="#00ff00" stroke-width="1.8"/><path d="M1025.44 883.65A6.65 6.65 0 0 1 1025.44 896.95Z" fill="#00ff00"/>
<circle cx="1040.16" cy="895.6" r="6.65" fill="#fff" stroke="#00ff00" stroke-width="1.8"/><path d="M1040.16 888.95A6.65 6.65 0 0 1 1040.16 902.25Z" fill="#00ff00"/>
<circle cx="1054.88" cy="902.3" r="6.65" fill="#fff" stroke="#00ff00" stroke-width="1.8"/><path d="M1054.88 895.65A6.65 6.65 0 0 1 1054.88 908.95Z" fill="#00ff00"/>
<circle cx="1069.6" cy="904.6" r="6.65" fill="#fff" stroke="#00ff00" stroke-width="1.8"/><path d="M1069.6 897.95A6.65 6.65 0 0 1 1069.6 911.25Z" fill="#00ff00"/>
<circle cx="1084.32" cy="911.4" r="6.65" fill="#fff" stroke="#00ff00" stroke-width="1.8"/><path d="M1084.32 904.75A6.65 6.65 0 0 1 1084.32 918.05Z" fill="#00ff00"/>
<circle cx="1099.04" cy="920.5" r="6.65" fill="#fff" stroke="#00ff00" stroke-width="1.8"/><path d="M1099.04 913.85A6.65 6.65 0 0 1 1099.04 927.15Z" fill="#00ff00"/>
<circle cx="1113.77" cy="925" r="6.65" fill="#fff" stroke="#00ff00" stroke-width="1.8"/><path d="M1113.77 918.35A6.65 6.65 0 0 1 1113.77 931.65Z" fill="#00ff00"/>
<circle cx="1128.49" cy="928.1" r="6.65" fill="#fff" stroke="#00ff00" stroke-width="1.8"/><path d="M1128.49 921.45A6.65 6.65 0 0 1 1128.49 934.75Z" fill="#00ff00"/>
<circle cx="1143.21" cy="931.3" r="6.65" fill="#fff" stroke="#00ff00" stroke-width="1.8"/><path d="M1143.21 924.65A6.65 6.65 0 0 1 1143.21 937.95Z" fill="#00ff00"/>
<circle cx="1157.93" cy="938.1" r="6.65" fill="#fff" stroke="#00ff00" stroke-width="1.8"/><path d="M1157.93 931.45A6.65 6.65 0 0 1 1157.93 944.75Z" fill="#00ff00"/>
<circle cx="1172.65" cy="941.3" r="6.65" fill="#fff" stroke="#00ff00" stroke-width="1.8"/><path d="M1172.65 934.65A6.65 6.65 0 0 1 1172.65 947.95Z" fill="#00ff00"/>
<circle cx="1187.37" cy="945.3" r="6.65" fill="#fff" stroke="#00ff00" stroke-width="1.8"/><path d="M1187.37 938.65A6.65 6.65 0 0 1 1187.37 951.95Z" fill="#00ff00"/>
<circle cx="1202.09" cy="950.4" r="6.65" fill="#fff" stroke="#00ff00" stroke-width="1.8"/><path d="M1202.09 943.75A6.65 6.65 0 0 1 1202.09 957.05Z" fill="#00ff00"/>
<circle cx="1216.81" cy="953.2" r="6.65" fill="#fff" stroke="#00ff00" stroke-width="1.8"/><path d="M1216.81 946.55A6.65 6.65 0 0 1 1216.81 959.85Z" fill="#00ff00"/>
<circle cx="1246.26" cy="957" r="6.65" fill="#fff" stroke="#00ff00" stroke-width="1.8"/><path d="M1246.26 950.35A6.65 6.65 0 0 1 1246.26 963.65Z" fill="#00ff00"/>
<circle cx="1275.7" cy="960.9" r="6.65" fill="#fff" stroke="#00ff00" stroke-width="1.8"/><path d="M1275.7 954.25A6.65 6.65 0 0 1 1275.7 967.55Z" fill="#00ff00"/>
<circle cx="1334.59" cy="964.1" r="6.65" fill="#fff" stroke="#00ff00" stroke-width="1.8"/><path d="M1334.59 957.45A6.65 6.65 0 0 1 1334.59 970.75Z" fill="#00ff00"/>
</g>
<g id="s4">
<path d="M500.85 437.78L504.81 443.12M515.92 457.41L519.18 461.39M530.64 475.41L533.9 479.39M546.19 492.64L547.8 494.16M556.94 509.07L566.49 541.03M575.35 556.22L577.52 558.48M589.47 572.05L592.85 576.25M603.76 590.68L607.99 596.62M634.17 621.38L636.47 623.82M649.17 636.71L650.91 638.39M663.74 651.16L665.79 653.24M678.53 666.09L680.44 668.01M693.65 680.36L694.76 681.34M707.55 694.09L710.3 697.21M767.66 737.88L767.97 738.12M826.26 776.83L827.14 777.57M914.73 832.36L915.33 832.84" fill="none" stroke="#ff0000" stroke-width="2.8"/>
<circle cx="495.47" cy="430.5" r="6.65" fill="#fff" stroke="#ff4040" stroke-width="1.8"/><path d="M495.47 423.85A6.65 6.65 0 0 1 495.47 437.15Z" fill="#ff4040"/>
<circle cx="510.19" cy="450.4" r="6.65" fill="#fff" stroke="#ff4040" stroke-width="1.8"/><path d="M510.19 443.75A6.65 6.65 0 0 1 510.19 457.05Z" fill="#ff4040"/>
<circle cx="569.08" cy="549.7" r="6.65" fill="#fff" stroke="#ff4040" stroke-width="1.8"/><path d="M569.08 543.05A6.65 6.65 0 0 1 569.08 556.35Z" fill="#ff4040"/>
<circle cx="583.8" cy="565" r="6.65" fill="#fff" stroke="#ff4040" stroke-width="1.8"/><path d="M583.8 558.35A6.65 6.65 0 0 1 583.8 571.65Z" fill="#ff4040"/>
<circle cx="598.52" cy="583.3" r="6.65" fill="#fff" stroke="#ff4040" stroke-width="1.8"/><path d="M598.52 576.65A6.65 6.65 0 0 1 598.52 589.95Z" fill="#ff4040"/>
<circle cx="613.24" cy="604" r="6.65" fill="#fff" stroke="#ff4040" stroke-width="1.8"/><path d="M613.24 597.35A6.65 6.65 0 0 1 613.24 610.65Z" fill="#ff4040"/>
<circle cx="627.96" cy="614.8" r="6.65" fill="#fff" stroke="#ff4040" stroke-width="1.8"/><path d="M627.96 608.15A6.65 6.65 0 0 1 627.96 621.45Z" fill="#ff4040"/>
<circle cx="642.68" cy="630.4" r="6.65" fill="#fff" stroke="#ff4040" stroke-width="1.8"/><path d="M642.68 623.75A6.65 6.65 0 0 1 642.68 637.05Z" fill="#ff4040"/>
<circle cx="657.4" cy="644.7" r="6.65" fill="#fff" stroke="#ff4040" stroke-width="1.8"/><path d="M657.4 638.05A6.65 6.65 0 0 1 657.4 651.35Z" fill="#ff4040"/>
<circle cx="672.13" cy="659.7" r="6.65" fill="#fff" stroke="#ff4040" stroke-width="1.8"/><path d="M672.13 653.05A6.65 6.65 0 0 1 672.13 666.35Z" fill="#ff4040"/>
<circle cx="686.85" cy="674.4" r="6.65" fill="#fff" stroke="#ff4040" stroke-width="1.8"/><path d="M686.85 667.75A6.65 6.65 0 0 1 686.85 681.05Z" fill="#ff4040"/>
<circle cx="701.57" cy="687.3" r="6.65" fill="#fff" stroke="#ff4040" stroke-width="1.8"/><path d="M701.57 680.65A6.65 6.65 0 0 1 701.57 693.95Z" fill="#ff4040"/>
<circle cx="745.73" cy="721.6" r="6.65" fill="#fff" stroke="#ff4040" stroke-width="1.8"/><path d="M745.73 714.95A6.65 6.65 0 0 1 745.73 728.25Z" fill="#ff4040"/>
<circle cx="760.45" cy="732.4" r="6.65" fill="#fff" stroke="#ff4040" stroke-width="1.8"/><path d="M760.45 725.75A6.65 6.65 0 0 1 760.45 739.05Z" fill="#ff4040"/>
<circle cx="775.17" cy="743.6" r="6.65" fill="#fff" stroke="#ff4040" stroke-width="1.8"/><path d="M775.17 736.95A6.65 6.65 0 0 1 775.17 750.25Z" fill="#ff4040"/>
<circle cx="789.9" cy="751.4" r="6.65" fill="#fff" stroke="#ff4040" stroke-width="1.8"/><path d="M789.9 744.75A6.65 6.65 0 0 1 789.9 758.05Z" fill="#ff4040"/>
<circle cx="804.62" cy="760.8" r="6.65" fill="#fff" stroke="#ff4040" stroke-width="1.8"/><path d="M804.62 754.15A6.65 6.65 0 0 1 804.62 767.45Z" fill="#ff4040"/>
<circle cx="819.34" cy="771" r="6.65" fill="#fff" stroke="#ff4040" stroke-width="1.8"/><path d="M819.34 764.35A6.65 6.65 0 0 1 819.34 777.65Z" fill="#ff4040"/>
<circle cx="834.06" cy="783.4" r="6.65" fill="#fff" stroke="#ff4040" stroke-width="1.8"/><path d="M834.06 776.75A6.65 6.65 0 0 1 834.06 790.05Z" fill="#ff4040"/>
<circle cx="848.78" cy="793.7" r="6.65" fill="#fff" stroke="#ff4040" stroke-width="1.8"/><path d="M848.78 787.05A6.65 6.65 0 0 1 848.78 800.35Z" fill="#ff4040"/>
<circle cx="863.5" cy="802.1" r="6.65" fill="#fff" stroke="#ff4040" stroke-width="1.8"/><path d="M863.5 795.45A6.65 6.65 0 0 1 863.5 808.75Z" fill="#ff4040"/>
<circle cx="878.22" cy="810.9" r="6.65" fill="#fff" stroke="#ff4040" stroke-width="1.8"/><path d="M878.22 804.25A6.65 6.65 0 0 1 878.22 817.55Z" fill="#ff4040"/>
<circle cx="892.95" cy="819.6" r="6.65" fill="#fff" stroke="#ff4040" stroke-width="1.8"/><path d="M892.95 812.95A6.65 6.65 0 0 1 892.95 826.25Z" fill="#ff4040"/>
<circle cx="907.67" cy="826.7" r="6.65" fill="#fff" stroke="#ff4040" stroke-width="1.8"/><path d="M907.67 820.05A6.65 6.65 0 0 1 907.67 833.35Z" fill="#ff4040"/>
<circle cx="922.39" cy="838.5" r="6.65" fill="#fff" stroke="#ff4040" stroke-width="1.8"/><path d="M922.39 831.85A6.65 6.65 0 0 1 922.39 845.15Z" fill="#ff4040"/>
<circle cx="966.55" cy="868.4" r="6.65" fill="#fff" stroke="#ff4040" stroke-width="1.8"/><path d="M966.55 861.75A6.65 6.65 0 0 1 966.55 875.05Z" fill="#ff4040"/>
<circle cx="981.27" cy="876.4" r="6.65" fill="#fff" stroke="#ff4040" stroke-width="1.8"/><path d="M981.27 869.75A6.65 6.65 0 0 1 981.27 883.05Z" fill="#ff4040"/>
<circle cx="995.99" cy="884.7" r="6.65" fill="#fff" stroke="#ff4040" stroke-width="1.8"/><path d="M995.99 878.05A6.65 6.65 0 0 1 995.99 891.35Z" fill="#ff4040"/>
<circle cx="1010.72" cy="891.5" r="6.65" fill="#fff" stroke="#ff4040" stroke-width="1.8"/><path d="M1010.72 884.85A6.65 6.65 0 0 1 1010.72 898.15Z" fill="#ff4040"/>
<circle cx="1025.44" cy="896.7" r="6.65" fill="#fff" stroke="#ff4040" stroke-width="1.8"/><path d="M1025.44 890.05A6.65 6.65 0 0 1 1025.44 903.35Z" fill="#ff4040"/>
<circle cx="1040.16" cy="902.6" r="6.65" fill="#fff" stroke="#ff4040" stroke-width="1.8"/><path d="M1040.16 895.95A6.65 6.65 0 0 1 1040.16 909.25Z" fill="#ff4040"/>
<circle cx="1054.88" cy="910.5" r="6.65" fill="#fff" stroke="#ff4040" stroke-width="1.8"/><path d="M1054.88 903.85A6.65 6.65 0 0 1 1054.88 917.15Z" fill="#ff4040"/>
<circle cx="1069.6" cy="916.5" r="6.65" fill="#fff" stroke="#ff4040" stroke-width="1.8"/><path d="M1069.6 909.85A6.65 6.65 0 0 1 1069.6 923.15Z" fill="#ff4040"/>
<circle cx="1084.32" cy="923.7" r="6.65" fill="#fff" stroke="#ff4040" stroke-width="1.8"/><path d="M1084.32 917.05A6.65 6.65 0 0 1 1084.32 930.35Z" fill="#ff4040"/>
<circle cx="1099.04" cy="930.7" r="6.65" fill="#fff" stroke="#ff4040" stroke-width="1.8"/><path d="M1099.04 924.05A6.65 6.65 0 0 1 1099.04 937.35Z" fill="#ff4040"/>
<circle cx="1113.77" cy="936.5" r="6.65" fill="#fff" stroke="#ff4040" stroke-width="1.8"/><path d="M1113.77 929.85A6.65 6.65 0 0 1 1113.77 943.15Z" fill="#ff4040"/>
<circle cx="1128.49" cy="945.4" r="6.65" fill="#fff" stroke="#ff4040" stroke-width="1.8"/><path d="M1128.49 938.75A6.65 6.65 0 0 1 1128.49 952.05Z" fill="#ff4040"/>
<circle cx="1143.21" cy="950.6" r="6.65" fill="#fff" stroke="#ff4040" stroke-width="1.8"/><path d="M1143.21 943.95A6.65 6.65 0 0 1 1143.21 957.25Z" fill="#ff4040"/>
<circle cx="1157.93" cy="956.1" r="6.65" fill="#fff" stroke="#ff4040" stroke-width="1.8"/><path d="M1157.93 949.45A6.65 6.65 0 0 1 1157.93 962.75Z" fill="#ff4040"/>
<circle cx="1172.65" cy="959.3" r="6.65" fill="#fff" stroke="#ff4040" stroke-width="1.8"/><path d="M1172.65 952.65A6.65 6.65 0 0 1 1172.65 965.95Z" fill="#ff4040"/>
<circle cx="1187.37" cy="966.8" r="6.65" fill="#fff" stroke="#ff4040" stroke-width="1.8"/><path d="M1187.37 960.15A6.65 6.65 0 0 1 1187.37 973.45Z" fill="#ff4040"/>
<circle cx="1202.09" cy="969.2" r="6.65" fill="#fff" stroke="#ff4040" stroke-width="1.8"/><path d="M1202.09 962.55A6.65 6.65 0 0 1 1202.09 975.85Z" fill="#ff4040"/>
<circle cx="1231.54" cy="973.6" r="6.65" fill="#fff" stroke="#ff4040" stroke-width="1.8"/><path d="M1231.54 966.95A6.65 6.65 0 0 1 1231.54 980.25Z" fill="#ff4040"/>
<circle cx="1246.26" cy="979" r="6.65" fill="#fff" stroke="#ff4040" stroke-width="1.8"/><path d="M1246.26 972.35A6.65 6.65 0 0 1 1246.26 985.65Z" fill="#ff4040"/>
</g>
<g id="s5">
<path d="M456.81 372.58L460.52 377.42M470.37 392.54L476.4 403.56M485.78 419.02L490.44 425.98M501.22 440.49L504.44 444.41M516.1 458.26L519.01 461.64M530.66 475.49L533.88 479.41M546.19 492.64L547.8 494.16M556.59 509.17L566.84 549.43M574.25 565.62L578.62 571.88M589.72 586.14L592.59 589.46M604.92 602.69L606.84 604.61M619.6 617.44L621.6 619.46M648.26 642.93L651.82 647.47M678.05 671.44L680.92 674.76M708.44 697.48L709.41 698.32M752.7 729.87L753.49 730.53M796.93 760.99L797.58 761.51M1240.57 981.95L1251.95 982.65" fill="none" stroke="#8c00ff" stroke-width="2.8"/>
<circle cx="451.31" cy="365.4" r="6.65" fill="#fff" stroke="#0a6ee6" stroke-width="1.8"/><path d="M451.31 358.75A6.65 6.65 0 0 1 451.31 372.05Z" fill="#0a6ee6"/>
<circle cx="466.03" cy="384.6" r="6.65" fill="#fff" stroke="#0a6ee6" stroke-width="1.8"/><path d="M466.03 377.95A6.65 6.65 0 0 1 466.03 391.25Z" fill="#0a6ee6"/>
<circle cx="480.75" cy="411.5" r="6.65" fill="#fff" stroke="#0a6ee6" stroke-width="1.8"/><path d="M480.75 404.85A6.65 6.65 0 0 1 480.75 418.15Z" fill="#0a6ee6"/>
<circle cx="495.47" cy="433.5" r="6.65" fill="#fff" stroke="#0a6ee6" stroke-width="1.8"/><path d="M495.47 426.85A6.65 6.65 0 0 1 495.47 440.15Z" fill="#0a6ee6"/>
<circle cx="510.19" cy="451.4" r="6.65" fill="#fff" stroke="#0a6ee6" stroke-width="1.8"/><path d="M510.19 444.75A6.65 6.65 0 0 1 510.19 458.05Z" fill="#0a6ee6"/>
<circle cx="524.91" cy="468.5" r="6.65" fill="#fff" stroke="#0a6ee6" stroke-width="1.8"/><path d="M524.91 461.85A6.65 6.65 0 0 1 524.91 475.15Z" fill="#0a6ee6"/>
<circle cx="539.63" cy="486.4" r="6.65" fill="#fff" stroke="#0a6ee6" stroke-width="1.8"/><path d="M539.63 479.75A6.65 6.65 0 0 1 539.63 493.05Z" fill="#0a6ee6"/>
<circle cx="554.35" cy="500.4" r="6.65" fill="#fff" stroke="#0a6ee6" stroke-width="1.8"/><path d="M554.35 493.75A6.65 6.65 0 0 1 554.35 507.05Z" fill="#0a6ee6"/>
<circle cx="569.08" cy="558.2" r="6.65" fill="#fff" stroke="#0a6ee6" stroke-width="1.8"/><path d="M569.08 551.55A6.65 6.65 0 0 1 569.08 564.85Z" fill="#0a6ee6"/>
<circle cx="583.8" cy="579.3" r="6.65" fill="#fff" stroke="#0a6ee6" stroke-width="1.8"/><path d="M583.8 572.65A6.65 6.65 0 0 1 583.8 585.95Z" fill="#0a6ee6"/>
<circle cx="598.52" cy="596.3" r="6.65" fill="#fff" stroke="#0a6ee6" stroke-width="1.8"/><path d="M598.52 589.65A6.65 6.65 0 0 1 598.52 602.95Z" fill="#0a6ee6"/>
<circle cx="613.24" cy="611" r="6.65" fill="#fff" stroke="#0a6ee6" stroke-width="1.8"/><path d="M613.24 604.35A6.65 6.65 0 0 1 613.24 617.65Z" fill="#0a6ee6"/>
<circle cx="627.96" cy="625.9" r="6.65" fill="#fff" stroke="#0a6ee6" stroke-width="1.8"/><path d="M627.96 619.25A6.65 6.65 0 0 1 627.96 632.55Z" fill="#0a6ee6"/>
<circle cx="642.68" cy="635.8" r="6.65" fill="#fff" stroke="#0a6ee6" stroke-width="1.8"/><path d="M642.68 629.15A6.65 6.65 0 0 1 642.68 642.45Z" fill="#0a6ee6"/>
<circle cx="657.4" cy="654.6" r="6.65" fill="#fff" stroke="#0a6ee6" stroke-width="1.8"/><path d="M657.4 647.95A6.65 6.65 0 0 1 657.4 661.25Z" fill="#0a6ee6"/>
<circle cx="672.13" cy="664.6" r="6.65" fill="#fff" stroke="#0a6ee6" stroke-width="1.8"/><path d="M672.13 657.95A6.65 6.65 0 0 1 672.13 671.25Z" fill="#0a6ee6"/>
<circle cx="686.85" cy="681.6" r="6.65" fill="#fff" stroke="#0a6ee6" stroke-width="1.8"/><path d="M686.85 674.95A6.65 6.65 0 0 1 686.85 688.25Z" fill="#0a6ee6"/>
<circle cx="701.57" cy="691.6" r="6.65" fill="#fff" stroke="#0a6ee6" stroke-width="1.8"/><path d="M701.57 684.95A6.65 6.65 0 0 1 701.57 698.25Z" fill="#0a6ee6"/>
<circle cx="716.29" cy="704.2" r="6.65" fill="#fff" stroke="#0a6ee6" stroke-width="1.8"/><path d="M716.29 697.55A6.65 6.65 0 0 1 716.29 710.85Z" fill="#0a6ee6"/>
<circle cx="731.01" cy="714.9" r="6.65" fill="#fff" stroke="#0a6ee6" stroke-width="1.8"/><path d="M731.01 708.25A6.65 6.65 0 0 1 731.01 721.55Z" fill="#0a6ee6"/>
<circle cx="745.73" cy="724.1" r="6.65" fill="#fff" stroke="#0a6ee6" stroke-width="1.8"/><path d="M745.73 717.45A6.65 6.65 0 0 1 745.73 730.75Z" fill="#0a6ee6"/>
<circle cx="760.45" cy="736.3" r="6.65" fill="#fff" stroke="#0a6ee6" stroke-width="1.8"/><path d="M760.45 729.65A6.65 6.65 0 0 1 760.45 742.95Z" fill="#0a6ee6"/>
<circle cx="775.17" cy="747" r="6.65" fill="#fff" stroke="#0a6ee6" stroke-width="1.8"/><path d="M775.17 740.35A6.65 6.65 0 0 1 775.17 753.65Z" fill="#0a6ee6"/>
<circle cx="789.9" cy="755.3" r="6.65" fill="#fff" stroke="#0a6ee6" stroke-width="1.8"/><path d="M789.9 748.65A6.65 6.65 0 0 1 789.9 761.95Z" fill="#0a6ee6"/>
<circle cx="804.62" cy="767.2" r="6.65" fill="#fff" stroke="#0a6ee6" stroke-width="1.8"/><path d="M804.62 760.55A6.65 6.65 0 0 1 804.62 773.85Z" fill="#0a6ee6"/>
<circle cx="819.34" cy="776.4" r="6.65" fill="#fff" stroke="#0a6ee6" stroke-width="1.8"/><path d="M819.34 769.75A6.65 6.65 0 0 1 819.34 783.05Z" fill="#0a6ee6"/>
<circle cx="834.06" cy="787" r="6.65" fill="#fff" stroke="#0a6ee6" stroke-width="1.8"/><path d="M834.06 780.35A6.65 6.65 0 0 1 834.06 793.65Z" fill="#0a6ee6"/>
<circle cx="848.78" cy="795.7" r="6.65" fill="#fff" stroke="#0a6ee6" stroke-width="1.8"/><path d="M848.78 789.05A6.65 6.65 0 0 1 848.78 802.35Z" fill="#0a6ee6"/>
<circle cx="863.5" cy="805" r="6.65" fill="#fff" stroke="#0a6ee6" stroke-width="1.8"/><path d="M863.5 798.35A6.65 6.65 0 0 1 863.5 811.65Z" fill="#0a6ee6"/>
<circle cx="878.22" cy="813.1" r="6.65" fill="#fff" stroke="#0a6ee6" stroke-width="1.8"/><path d="M878.22 806.45A6.65 6.65 0 0 1 878.22 819.75Z" fill="#0a6ee6"/>
<circle cx="892.95" cy="821.2" r="6.65" fill="#fff" stroke="#0a6ee6" stroke-width="1.8"/><path d="M892.95 814.55A6.65 6.65 0 0 1 892.95 827.85Z" fill="#0a6ee6"/>
<circle cx="907.67" cy="830.2" r="6.65" fill="#fff" stroke="#0a6ee6" stroke-width="1.8"/><path d="M907.67 823.55A6.65 6.65 0 0 1 907.67 836.85Z" fill="#0a6ee6"/>
<circle cx="922.39" cy="839.8" r="6.65" fill="#fff" stroke="#0a6ee6" stroke-width="1.8"/><path d="M922.39 833.15A6.65 6.65 0 0 1 922.39 846.45Z" fill="#0a6ee6"/>
<circle cx="937.11" cy="849.5" r="6.65" fill="#fff" stroke="#0a6ee6" stroke-width="1.8"/><path d="M937.11 842.85A6.65 6.65 0 0 1 937.11 856.15Z" fill="#0a6ee6"/>
<circle cx="951.83" cy="859.4" r="6.65" fill="#fff" stroke="#0a6ee6" stroke-width="1.8"/><path d="M951.83 852.75A6.65 6.65 0 0 1 951.83 866.05Z" fill="#0a6ee6"/>
<circle cx="966.55" cy="870.4" r="6.65" fill="#fff" stroke="#0a6ee6" stroke-width="1.8"/><path d="M966.55 863.75A6.65 6.65 0 0 1 966.55 877.05Z" fill="#0a6ee6"/>
<circle cx="981.27" cy="879.4" r="6.65" fill="#fff" stroke="#0a6ee6" stroke-width="1.8"/><path d="M981.27 872.75A6.65 6.65 0 0 1 981.27 886.05Z" fill="#0a6ee6"/>
<circle cx="995.99" cy="888.2" r="6.65" fill="#fff" stroke="#0a6ee6" stroke-width="1.8"/><path d="M995.99 881.55A6.65 6.65 0 0 1 995.99 894.85Z" fill="#0a6ee6"/>
<circle cx="1010.72" cy="896.4" r="6.65" fill="#fff" stroke="#0a6ee6" stroke-width="1.8"/><path d="M1010.72 889.75A6.65 6.65 0 0 1 1010.72 903.05Z" fill="#0a6ee6"/>
<circle cx="1025.44" cy="902.6" r="6.65" fill="#fff" stroke="#0a6ee6" stroke-width="1.8"/><path d="M1025.44 895.95A6.65 6.65 0 0 1 1025.44 909.25Z" fill="#0a6ee6"/>
<circle cx="1040.16" cy="910.3" r="6.65" fill="#fff" stroke="#0a6ee6" stroke-width="1.8"/><path d="M1040.16 903.65A6.65 6.65 0 0 1 1040.16 916.95Z" fill="#0a6ee6"/>
<circle cx="1054.88" cy="916.7" r="6.65" fill="#fff" stroke="#0a6ee6" stroke-width="1.8"/><path d="M1054.88 910.05A6.65 6.65 0 0 1 1054.88 923.35Z" fill="#0a6ee6"/>
<circle cx="1069.6" cy="923" r="6.65" fill="#fff" stroke="#0a6ee6" stroke-width="1.8"/><path d="M1069.6 916.35A6.65 6.65 0 0 1 1069.6 929.65Z" fill="#0a6ee6"/>
<circle cx="1084.32" cy="929.6" r="6.65" fill="#fff" stroke="#0a6ee6" stroke-width="1.8"/><path d="M1084.32 922.95A6.65 6.65 0 0 1 1084.32 936.25Z" fill="#0a6ee6"/>
<circle cx="1099.04" cy="937" r="6.65" fill="#fff" stroke="#0a6ee6" stroke-width="1.8"/><path d="M1099.04 930.35A6.65 6.65 0 0 1 1099.04 943.65Z" fill="#0a6ee6"/>
<circle cx="1113.77" cy="943.8" r="6.65" fill="#fff" stroke="#0a6ee6" stroke-width="1.8"/><path d="M1113.77 937.15A6.65 6.65 0 0 1 1113.77 950.45Z" fill="#0a6ee6"/>
<circle cx="1128.49" cy="951.2" r="6.65" fill="#fff" stroke="#0a6ee6" stroke-width="1.8"/><path d="M1128.49 944.55A6.65 6.65 0 0 1 1128.49 957.85Z" fill="#0a6ee6"/>
<circle cx="1143.21" cy="956.2" r="6.65" fill="#fff" stroke="#0a6ee6" stroke-width="1.8"/><path d="M1143.21 949.55A6.65 6.65 0 0 1 1143.21 962.85Z" fill="#0a6ee6"/>
<circle cx="1157.93" cy="959.5" r="6.65" fill="#fff" stroke="#0a6ee6" stroke-width="1.8"/><path d="M1157.93 952.85A6.65 6.65 0 0 1 1157.93 966.15Z" fill="#0a6ee6"/>
<circle cx="1172.65" cy="962.9" r="6.65" fill="#fff" stroke="#0a6ee6" stroke-width="1.8"/><path d="M1172.65 956.25A6.65 6.65 0 0 1 1172.65 969.55Z" fill="#0a6ee6"/>
<circle cx="1187.37" cy="970.4" r="6.65" fill="#fff" stroke="#0a6ee6" stroke-width="1.8"/><path d="M1187.37 963.75A6.65 6.65 0 0 1 1187.37 977.05Z" fill="#0a6ee6"/>
<circle cx="1202.09" cy="975" r="6.65" fill="#fff" stroke="#0a6ee6" stroke-width="1.8"/><path d="M1202.09 968.35A6.65 6.65 0 0 1 1202.09 981.65Z" fill="#0a6ee6"/>
<circle cx="1216.81" cy="977.9" r="6.65" fill="#fff" stroke="#0a6ee6" stroke-width="1.8"/><path d="M1216.81 971.25A6.65 6.65 0 0 1 1216.81 984.55Z" fill="#0a6ee6"/>
<circle cx="1231.54" cy="981.4" r="6.65" fill="#fff" stroke="#0a6ee6" stroke-width="1.8"/><path d="M1231.54 974.75A6.65 6.65 0 0 1 1231.54 988.05Z" fill="#0a6ee6"/>
<circle cx="1260.98" cy="983.2" r="6.65" fill="#fff" stroke="#0a6ee6" stroke-width="1.8"/><path d="M1260.98 976.55A6.65 6.65 0 0 1 1260.98 989.85Z" fill="#0a6ee6"/>
</g>
<g stroke="#000" fill="none">
<path d="M171.5 25V1001M169 998.5H1388" stroke-width="5" shape-rendering="crispEdges"/>
<path d="M171 27H192" stroke-width="4" shape-rendering="crispEdges"/>
<path d="M171 901.25H192M171 804.1H192M171 706.95H192M171 609.8H192M171 512.65H192M171 415.5H192M171 318.35H192M171 221.2H192M171 124.05H192" stroke-width="4.4"/>
<path d="M171 949.5H182M171 852.5H182M171 755.5H182M171 658.5H182M171 561.5H182M171 464.5H182M171 366.5H182M171 269.5H182M171 172.5H182M171 75.5H182" stroke-width="5" shape-rendering="crispEdges"/>
<path d="M392.42 998V978M613.24 998V978M834.06 998V978M1054.88 998V978M1275.7 998V978" stroke-width="4.4"/>
<path d="M282.01 998V988M502.83 998V988M723.65 998V988M944.47 998V988M1165.29 998V988M1386 998V988" stroke-width="4.4"/>
</g>
<rect x="841" y="89" width="491" height="279" fill="#fff"/>
<g stroke="#000" fill="none" shape-rendering="crispEdges"><path d="M840 89.5H1333" stroke-width="3"/><path d="M841.5 88V369" stroke-width="3"/><path d="M840 368H1333" stroke-width="2"/><path d="M1332 88V369" stroke-width="2"/></g>
<path d="M846 120H948" stroke="#000000" stroke-width="2" fill="none" shape-rendering="crispEdges"/>
<circle cx="897.5" cy="120" r="6.65" fill="#fff" stroke="#000000" stroke-width="1.8"/><path d="M897.5 113.35A6.65 6.65 0 0 0 897.5 126.65Z" fill="#000000"/>
<text class="lg" transform="translate(1090.5 134.6) scale(1 1.02)" text-anchor="end">1000</text>
<text class="lg" transform="translate(1113 134.4) scale(1 1.025)">generations</text>
<path d="M846 174.5H948" stroke="#ff00ff" stroke-width="3" fill="none" shape-rendering="crispEdges"/>
<circle cx="897.5" cy="174.5" r="6.65" fill="#fff" stroke="#ff00ff" stroke-width="1.8"/><path d="M897.5 167.85A6.65 6.65 0 0 1 897.5 181.15Z" fill="#ff00ff"/>
<text class="lg" transform="translate(1090.5 189) scale(1 1.02)" text-anchor="end">5000</text>
<text class="lg" transform="translate(1113 188.8) scale(1 1.025)">generations</text>
<path d="M846 229H948" stroke="#00ff00" stroke-width="2" fill="none" shape-rendering="crispEdges"/>
<circle cx="897.5" cy="229" r="6.65" fill="#fff" stroke="#00ff00" stroke-width="1.8"/><path d="M897.5 222.35A6.65 6.65 0 0 1 897.5 235.65Z" fill="#00ff00"/>
<text class="lg" transform="translate(1101.5 243.4) scale(1 1.02)" text-anchor="end">10,000</text>
<text class="lg" transform="translate(1124 243.2) scale(1 1.025)">generations</text>
<path d="M846 283.5H948" stroke="#ff0000" stroke-width="3" fill="none" shape-rendering="crispEdges"/>
<circle cx="897.5" cy="283.5" r="6.65" fill="#fff" stroke="#ff4040" stroke-width="1.8"/><path d="M897.5 276.85A6.65 6.65 0 0 1 897.5 290.15Z" fill="#ff4040"/>
<text class="lg" transform="translate(1101.5 297.8) scale(1 1.02)" text-anchor="end">50,000</text>
<text class="lg" transform="translate(1124 297.6) scale(1 1.025)">generations</text>
<path d="M846 337.5H948" stroke="#8c00ff" stroke-width="3" fill="none" shape-rendering="crispEdges"/>
<circle cx="897.5" cy="337.5" r="6.65" fill="#fff" stroke="#0a6ee6" stroke-width="1.8"/><path d="M897.5 330.85A6.65 6.65 0 0 1 897.5 344.15Z" fill="#0a6ee6"/>
<text class="lg" transform="translate(1101.5 351.8) scale(1 1.02)" text-anchor="end">100,000</text>
<text class="lg" transform="translate(1124 351.6) scale(1 1.025)">generations</text>
<text class="tk" transform="translate(149.3 1011.7) scale(1.0 1.05)" text-anchor="end">0.00</text>
<text class="tk" transform="translate(149.3 914.55) scale(1.0 1.05)" text-anchor="end">0.05</text>
<text class="tk" transform="translate(149.3 817.4) scale(1.0 1.05)" text-anchor="end">0.10</text>
<text class="tk" transform="translate(149.3 720.25) scale(1.0 1.05)" text-anchor="end">0.15</text>
<text class="tk" transform="translate(149.3 623.1) scale(1.0 1.05)" text-anchor="end">0.20</text>
<text class="tk" transform="translate(149.3 525.95) scale(1.0 1.05)" text-anchor="end">0.25</text>
<text class="tk" transform="translate(149.3 428.8) scale(1.0 1.05)" text-anchor="end">0.30</text>
<text class="tk" transform="translate(149.3 331.65) scale(1.0 1.05)" text-anchor="end">0.35</text>
<text class="tk" transform="translate(149.3 234.5) scale(1.0 1.05)" text-anchor="end">0.40</text>
<text class="tk" transform="translate(149.3 137.35) scale(1.0 1.05)" text-anchor="end">0.45</text>
<text class="tk" transform="translate(149.3 40.2) scale(1.0 1.05)" text-anchor="end">0.50</text>
<text class="tk" transform="translate(171.6 1054.3) scale(1.0 1.05)" text-anchor="middle">0.15</text>
<text class="tk" transform="translate(392.42 1054.3) scale(1.0 1.05)" text-anchor="middle">0.20</text>
<text class="tk" transform="translate(613.24 1054.3) scale(1.0 1.05)" text-anchor="middle">0.25</text>
<text class="tk" transform="translate(834.06 1054.3) scale(1.0 1.05)" text-anchor="middle">0.30</text>
<text class="tk" transform="translate(1054.88 1054.3) scale(1.0 1.05)" text-anchor="middle">0.35</text>
<text class="tk" transform="translate(1275.7 1054.3) scale(1.0 1.05)" text-anchor="middle">0.40</text>
<text class="ax" x="796.2" y="1118.2" text-anchor="middle">blocking ratio</text>
<text class="ax" transform="translate(52.7 512.3) rotate(-90)" text-anchor="middle">crosstalk ratio</text>
</svg></body></html>
